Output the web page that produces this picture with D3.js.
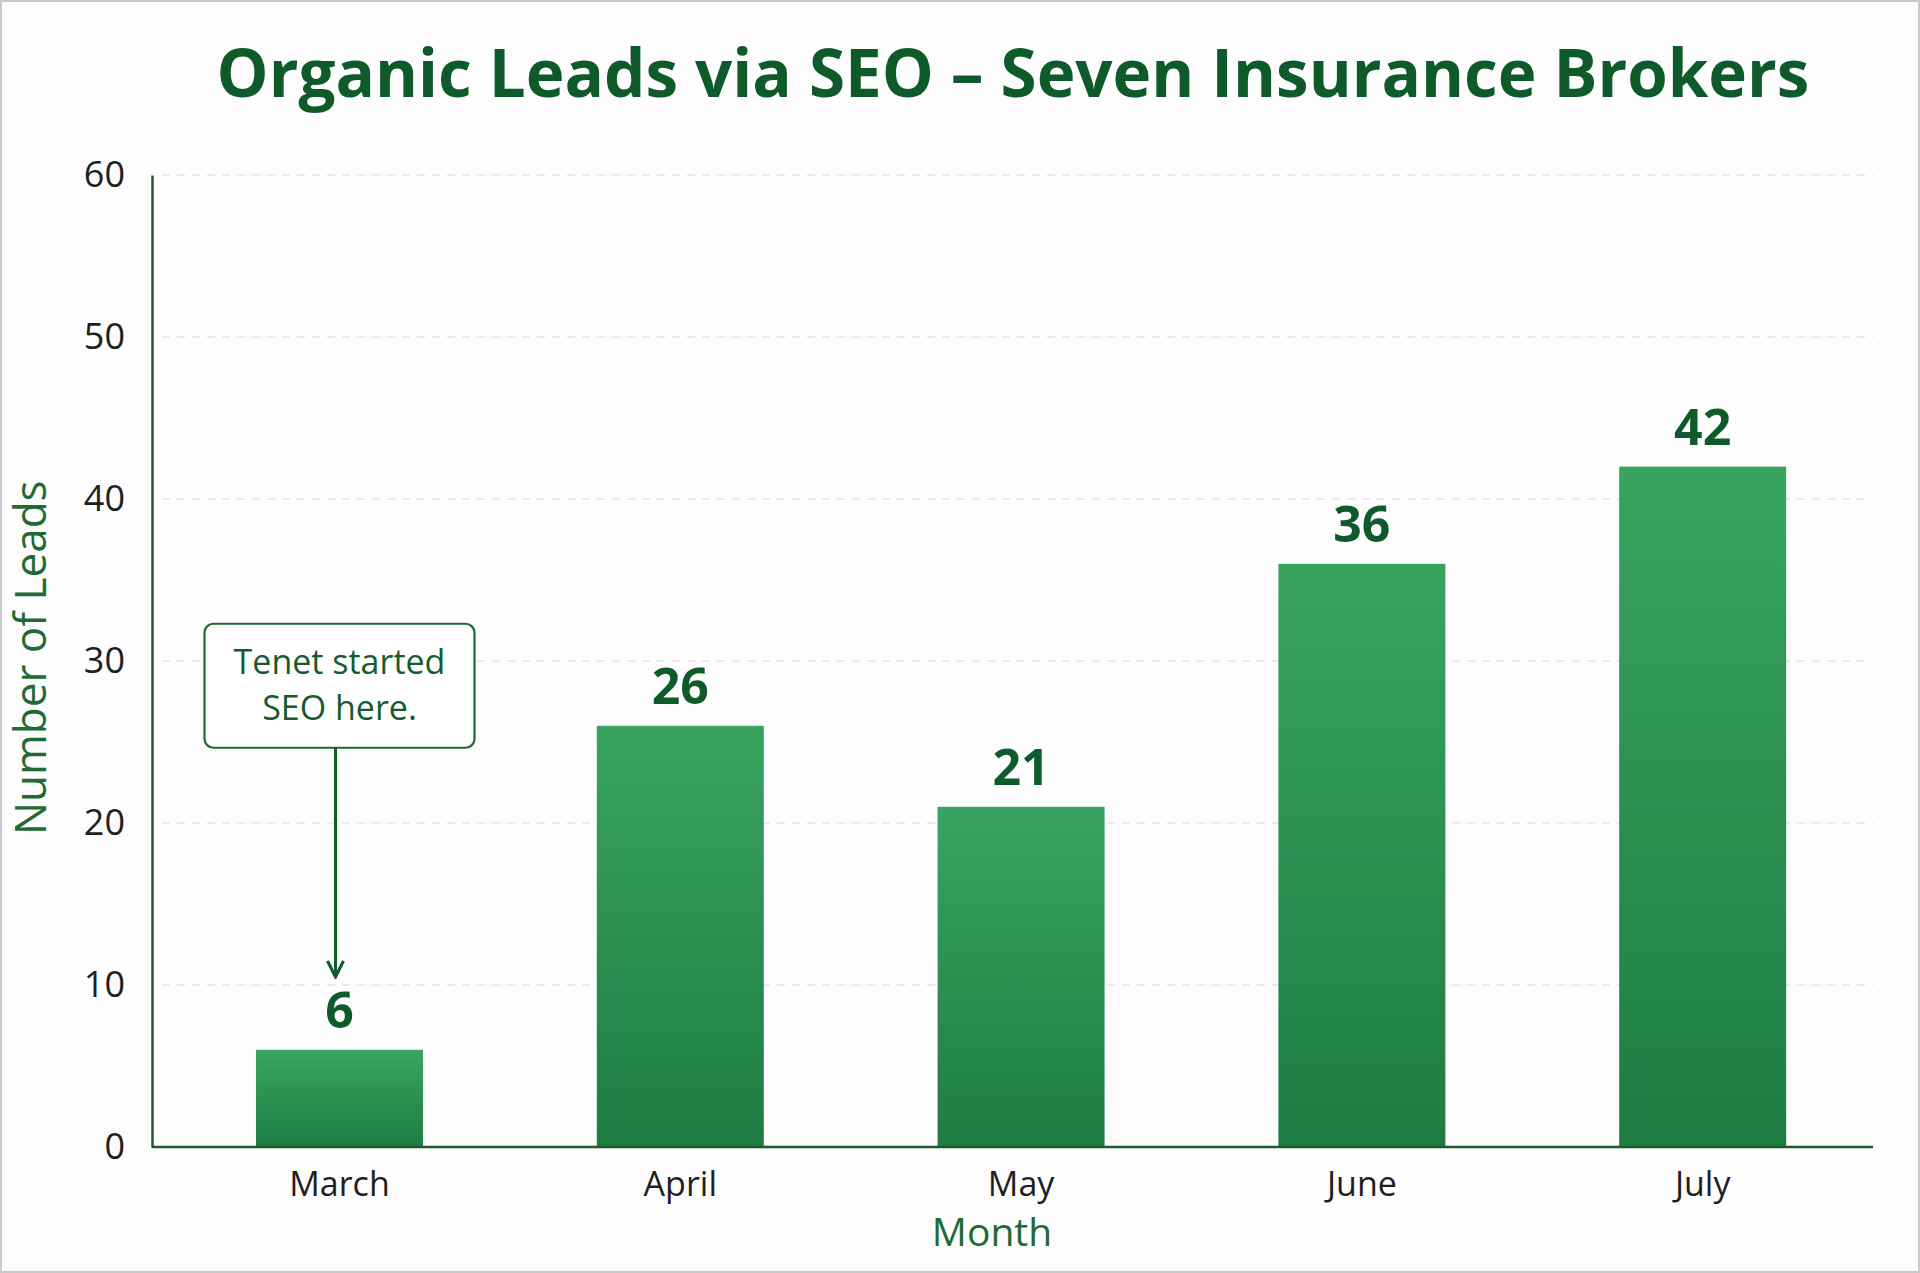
<!DOCTYPE html>
<html>
<head>
<meta charset="utf-8">
<script src="https://cdn.jsdelivr.net/npm/d3@7"></script>
<style>
    html, body { margin: 0; padding: 0; background: #fdfdfd; }
    svg { display: block; font-family: "Open Sans", "DejaVu Sans", sans-serif; }
</style>
</head>
<body>
<div id="chart"></div>
<script>
// data
let months = ["March", "April", "May", "June", "July"];
let leads = [6, 26, 21, 36, 42];
let yTicks = [0, 10, 20, 30, 40, 50, 60];
let noteLines = ["Tenet started", "SEO here."];

let width = 1920;
let height = 1273;
let padding = {left: 152, right: 47, top: 175, bottom: 126};

let svg = d3.select("#chart")
    .append("svg")
    .attr("width", width)
    .attr("height", height);

// outer frame
svg.append("rect")
    .attr("x", 1).attr("y", 1)
    .attr("width", width - 2).attr("height", height - 2)
    .attr("fill", "#fdfdfd")
    .attr("stroke", "#c9c9c9")
    .attr("stroke-width", 2);

// bar gradient, lighter on top
let defs = svg.append("defs");
let grad = defs.append("linearGradient")
    .attr("id", "barGrad")
    .attr("x1", 0).attr("y1", 0).attr("x2", 0).attr("y2", 1);
grad.append("stop").attr("offset", "0%").attr("stop-color", "#39a460");
grad.append("stop").attr("offset", "100%").attr("stop-color", "#1e7c42");

let marker = defs.append("marker")
    .attr("id", "arrow")
    .attr("viewBox", "0 0 10 10")
    .attr("refX", 9).attr("refY", 5)
    .attr("markerWidth", 20).attr("markerHeight", 20)
    .attr("markerUnits", "userSpaceOnUse")
    .attr("orient", "auto");
marker.append("path")
    .attr("d", "M1,1 L9,5 L1,9")
    .attr("fill", "none")
    .attr("stroke", "#145c2c")
    .attr("stroke-width", 1.6);

let xScale = d3.scaleBand()
    .domain(months)
    .range([padding.left, width - padding.right])
    .paddingInner(0.51)
    .paddingOuter(0.28)
    .align(0.545);

let yScale = d3.scaleLinear()
    .domain([0, 60])
    .range([height - padding.bottom, padding.top]);

// title
svg.append("text")
    .attr("x", 1013)
    .attr("y", 97)
    .attr("text-anchor", "middle")
    .attr("font-size", 65.5)
    .attr("font-weight", 700)
    .attr("fill", "#0f5a2a")
    .text("Organic Leads via SEO \u2013 Seven Insurance Brokers");

// dashed grid lines
svg.append("g")
    .selectAll("line")
    .data(yTicks.slice(1))
    .enter()
    .append("line")
    .attr("x1", padding.left + 10)
    .attr("x2", width - padding.right)
    .attr("y1", d => yScale(d))
    .attr("y2", d => yScale(d))
    .attr("stroke", "#e4e4e4")
    .attr("stroke-width", 1.5)
    .attr("stroke-dasharray", "8 7");

// y axis
let yAxis = svg.append("g")
    .attr("transform", "translate(" + padding.left + ",0)")
    .call(d3.axisLeft(yScale).tickValues(yTicks).tickSize(0).tickPadding(27));
yAxis.select(".domain").attr("stroke", "#1e5a30").attr("stroke-width", 2.5);
yAxis.selectAll("text")
    .attr("font-size", 36)
    .attr("fill", "#1f1f1f")
    .style("font-family", "'Open Sans', sans-serif");

// bars
svg.selectAll(".bar")
    .data(leads)
    .enter()
    .append("rect")
    .attr("class", "bar")
    .attr("x", (d, i) => xScale(months[i]))
    .attr("y", d => yScale(d))
    .attr("width", xScale.bandwidth())
    .attr("height", d => yScale(0) - yScale(d))
    .attr("fill", "url(#barGrad)");

// x axis
let xAxis = svg.append("g")
    .attr("transform", "translate(0," + yScale(0) + ")")
    .call(d3.axisBottom(xScale).tickSize(0).tickPadding(25));
xAxis.select(".domain")
    .attr("d", "M" + padding.left + ",0H" + (width - padding.right))
    .attr("stroke", "#1e5a30").attr("stroke-width", 2.5);
xAxis.selectAll("text")
    .attr("font-size", 34)
    .attr("fill", "#1f1f1f")
    .style("font-family", "'Open Sans', sans-serif");

// value labels
svg.selectAll(".value")
    .data(leads)
    .enter()
    .append("text")
    .attr("class", "value")
    .attr("x", (d, i) => xScale(months[i]) + xScale.bandwidth() / 2)
    .attr("y", d => yScale(d) - 22)
    .attr("text-anchor", "middle")
    .attr("font-size", 50)
    .attr("font-weight", 700)
    .attr("fill", "#0f5a2a")
    .text(d => d);

// axis titles
svg.append("text")
    .attr("x", 992)
    .attr("y", 1246)
    .attr("text-anchor", "middle")
    .attr("font-size", 39)
    .attr("fill", "#1f6b33")
    .text("Month");

svg.append("text")
    .attr("transform", "translate(46," + yScale(30.2) + ") rotate(-90)")
    .attr("text-anchor", "middle")
    .attr("font-size", 44)
    .attr("fill", "#1f6b33")
    .text("Number of Leads");

// annotation for March
let noteX = xScale("March") + xScale.bandwidth() / 2;
let boxW = 270, boxH = 124;
let boxTop = yScale(32.3);

svg.append("rect")
    .attr("x", noteX - boxW / 2)
    .attr("y", boxTop)
    .attr("width", boxW)
    .attr("height", boxH)
    .attr("rx", 9)
    .attr("fill", "#ffffff")
    .attr("stroke", "#1d6a35")
    .attr("stroke-width", 2.2);

svg.selectAll(".note")
    .data(noteLines)
    .enter()
    .append("text")
    .attr("class", "note")
    .attr("x", noteX)
    .attr("y", (d, i) => boxTop + 50 + i * 46)
    .attr("text-anchor", "middle")
    .attr("font-size", 34)
    .attr("fill", "#145c2c")
    .text(d => d);

svg.append("line")
    .attr("x1", noteX - 4)
    .attr("x2", noteX - 4)
    .attr("y1", boxTop + boxH)
    .attr("y2", yScale(10.5))
    .attr("stroke", "#145c2c")
    .attr("stroke-width", 3)
    .attr("marker-end", "url(#arrow)");
</script>
</body>
</html>
